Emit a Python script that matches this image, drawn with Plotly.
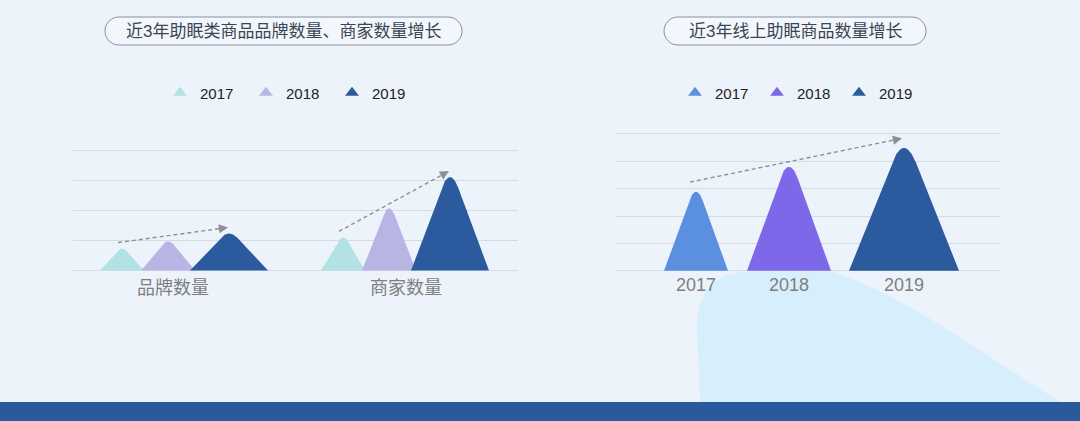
import numpy as np
import plotly.graph_objects as go

# data
years = ['2017', '2018', '2019']
left_categories = ['品牌数量', '商家数量']
brand_counts = [0.73, 0.97, 1.23]
merchant_counts = [1.1, 2.07, 3.1]
online_counts = [2.89, 3.8, 4.49]

left_title = '近3年助眠类商品品牌数量、商家数量增长'
right_title = '近3年线上助眠商品数量增长'

left_colors = ['#b2e2e3', '#b8b5e4', '#2b5a9e']
right_colors = ['#5b8fe0', '#7d68ea', '#2b5a9e']

W, H = 1080, 421
FONT = 'Liberation Sans, Noto Sans CJK SC, sans-serif'


def px(x):
    return x / W


def py(y):
    return (H - y) / H


def mountain(center, width, height, f=0.22, n=30):
    # triangle with a rounded (quadratic bezier) top whose apex sits at `height`
    hv = height / (1 - f / 2)
    p0 = (center - f * width / 2, (1 - f) * hv)
    p1 = (center, hv)
    p2 = (center + f * width / 2, (1 - f) * hv)
    t = np.linspace(0, 1, n)
    bx = (1 - t) ** 2 * p0[0] + 2 * t * (1 - t) * p1[0] + t ** 2 * p2[0]
    by = (1 - t) ** 2 * p0[1] + 2 * t * (1 - t) * p1[1] + t ** 2 * p2[1]
    xs = np.concatenate([[center - width / 2], bx, [center + width / 2]])
    ys = np.concatenate([[0], by, [0]])
    return xs, ys


def pill(x0, y0, x1, y1):
    r = (y1 - y0) / 2
    k = 0.55 * r
    pts = [
        f'M {px(x0 + r)},{py(y0)}',
        f'L {px(x1 - r)},{py(y0)}',
        f'C {px(x1 - r + k)},{py(y0)} {px(x1)},{py(y0 + r - k)} {px(x1)},{py(y0 + r)}',
        f'C {px(x1)},{py(y0 + r + k)} {px(x1 - r + k)},{py(y1)} {px(x1 - r)},{py(y1)}',
        f'L {px(x0 + r)},{py(y1)}',
        f'C {px(x0 + r - k)},{py(y1)} {px(x0)},{py(y1 - r + k)} {px(x0)},{py(y1 - r)}',
        f'C {px(x0)},{py(y0 + r - k)} {px(x0 + r - k)},{py(y0)} {px(x0 + r)},{py(y0)}',
        'Z',
    ]
    return ' '.join(pts)


fig = go.Figure()

# left panel: x axis in pixel-like units
left_ticks = [100, 333]
group_centers = [106, 327]
left_offsets = [-57, -11, 50]
left_widths = [44, 54, 78]
left_series = [brand_counts, merchant_counts]

for g, (gc, vals) in enumerate(zip(group_centers, left_series)):
    for i, yr in enumerate(years):
        xs, ys = mountain(gc + left_offsets[i], left_widths[i], vals[i])
        fig.add_trace(go.Scatter(x=xs, y=ys, fill='toself', mode='lines',
                                 line=dict(width=0), fillcolor=left_colors[i],
                                 hoverinfo='skip', showlegend=False,
                                 xaxis='x', yaxis='y'))
    # dashed growth arrow
    x0 = gc + left_offsets[0] - 4
    x1 = gc + left_offsets[2] - 1
    y0 = vals[0] + 0.2
    y1 = vals[2] + 0.2
    fig.add_trace(go.Scatter(x=[x0, x1], y=[y0, y1], mode='lines',
                             line=dict(color='#8c8f96', width=1.4, dash='4px,3px'),
                             hoverinfo='skip', showlegend=False, xaxis='x', yaxis='y'))
    fig.add_annotation(x=x1, y=y1, ax=x1 - 0.08 * (x1 - x0), ay=y1 - 0.08 * (y1 - y0),
                       xref='x', yref='y', axref='x', ayref='y', text='',
                       showarrow=True, arrowhead=2, arrowsize=1.3, arrowwidth=1.4,
                       arrowcolor='#8c8f96')

# right panel
right_centers = [80, 173, 288]
right_widths = [64, 84, 110]
for i, yr in enumerate(years):
    xs, ys = mountain(right_centers[i], right_widths[i], online_counts[i])
    fig.add_trace(go.Scatter(x=xs, y=ys, fill='toself', mode='lines',
                             line=dict(width=0), fillcolor=right_colors[i],
                             hoverinfo='skip', showlegend=False,
                             xaxis='x2', yaxis='y2'))
x0 = right_centers[0] - 6
x1 = right_centers[2] - 2
y0 = online_counts[0] + 0.35
y1 = online_counts[2] + 0.35
fig.add_trace(go.Scatter(x=[x0, x1], y=[y0, y1], mode='lines',
                         line=dict(color='#8c8f96', width=1.4, dash='4px,3px'),
                         hoverinfo='skip', showlegend=False, xaxis='x2', yaxis='y2'))
fig.add_annotation(x=x1, y=y1, ax=x1 - 0.05 * (x1 - x0), ay=y1 - 0.05 * (y1 - y0),
                   xref='x2', yref='y2', axref='x2', ayref='y2', text='',
                   showarrow=True, arrowhead=2, arrowsize=1.3, arrowwidth=1.4,
                   arrowcolor='#8c8f96')

# legend entries (triangle markers)
for i, yr in enumerate(years):
    fig.add_trace(go.Scatter(x=[None], y=[None], mode='markers', name=yr,
                             marker=dict(symbol='triangle-up', size=12, color=left_colors[i]),
                             legend='legend', xaxis='x', yaxis='y'))
    fig.add_trace(go.Scatter(x=[None], y=[None], mode='markers', name=yr,
                             marker=dict(symbol='triangle-up', size=12, color=right_colors[i]),
                             legend='legend2', xaxis='x2', yaxis='y2'))

# titles
fig.add_annotation(x=px(283), y=py(31), xref='paper', yref='paper', text=left_title,
                   xanchor='center', yanchor='middle', showarrow=False,
                   font=dict(size=17, color='#3a4556', family=FONT))
fig.add_annotation(x=px(795), y=py(31), xref='paper', yref='paper', text=right_title,
                   xanchor='center', yanchor='middle', showarrow=False,
                   font=dict(size=17, color='#3a4556', family=FONT))

shapes = [
    # light blob behind the right chart
    dict(type='path', xref='paper', yref='paper', layer='below', line=dict(width=0),
         fillcolor='rgba(205,237,252,0.7)',
         path=(f'M {px(700)},{py(402)} L {px(697)},{py(330)} '
               f'C {px(697)},{py(292)} {px(712)},{py(272)} {px(755)},{py(271)} '
               f'L {px(830)},{py(271)} '
               f'C {px(880)},{py(285)} {px(950)},{py(330)} {px(1010)},{py(370)} '
               f'L {px(1060)},{py(402)} Z')),
    dict(type='rect', xref='paper', yref='paper', x0=0, x1=1, y0=0, y1=py(402),
         fillcolor='#2a5a9b', line=dict(width=0), layer='below'),
    dict(type='path', xref='paper', yref='paper', path=pill(105, 17, 462, 45),
         line=dict(color='#8592a5', width=1), fillcolor='rgba(255,255,255,0.35)'),
    dict(type='path', xref='paper', yref='paper', path=pill(664, 17, 926, 45),
         line=dict(color='#8592a5', width=1), fillcolor='rgba(255,255,255,0.35)'),
]

grid = dict(showgrid=True, gridcolor='#d5dbe4', gridwidth=1, zeroline=False,
            showticklabels=False, showline=False, fixedrange=True)
xbase = dict(showgrid=False, zeroline=False, showline=False, ticks='',
             tickfont=dict(size=18, color='#7f7f7f', family=FONT), fixedrange=True)

fig.update_layout(
    width=W, height=H,
    margin=dict(l=0, r=0, t=0, b=0),
    paper_bgcolor='#edf3fa', plot_bgcolor='rgba(0,0,0,0)',
    shapes=shapes,
    xaxis=dict(xbase, domain=[px(73), px(518)], range=[0, 445], anchor='y',
               tickmode='array', tickvals=left_ticks, ticktext=left_categories,
               ticklabelstandoff=-2),
    yaxis=dict(grid, domain=[py(276.6), py(144.0)], range=[-0.2, 4.2], dtick=1,
               anchor='x'),
    xaxis2=dict(xbase, domain=[px(616), px(1000)], range=[0, 384], anchor='y2',
                tickmode='array', tickvals=right_centers, ticktext=years,
                ticklabelstandoff=-4),
    yaxis2=dict(grid, domain=[py(276.2), py(128.5)], range=[-0.2, 5.2], dtick=1,
                anchor='x2'),
    legend=dict(orientation='h', x=px(289), xanchor='center', y=py(93), yanchor='middle',
                font=dict(size=15, color='#222222', family=FONT), bgcolor='rgba(0,0,0,0)',
                entrywidth=41, itemclick=False, itemdoubleclick=False),
    legend2=dict(orientation='h', x=px(798), xanchor='center', y=py(93), yanchor='middle',
                 font=dict(size=15, color='#222222', family=FONT), bgcolor='rgba(0,0,0,0)',
                 entrywidth=37, itemclick=False, itemdoubleclick=False),
    showlegend=True,
)

fig.write_html('out.html', post_script="document.body.style.margin='0';",
               config={'displayModeBar': False})
